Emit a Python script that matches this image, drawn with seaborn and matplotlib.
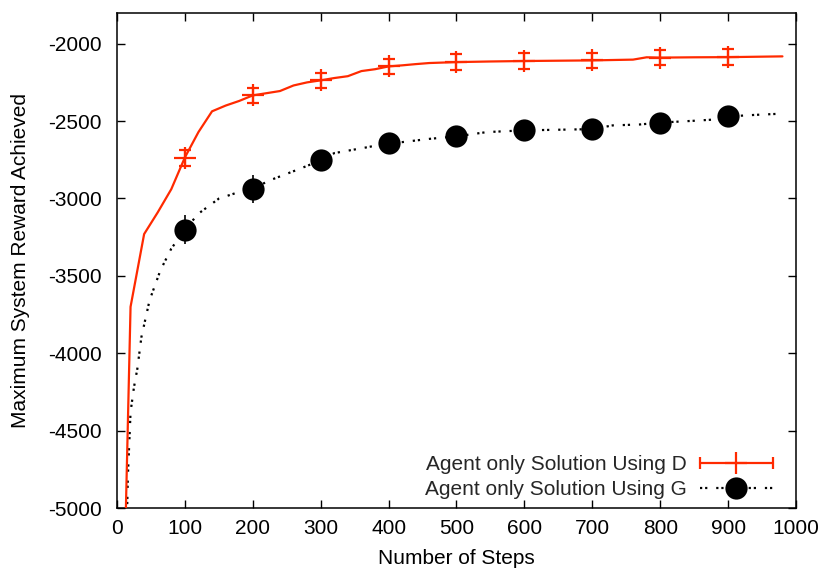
import matplotlib
matplotlib.use("Agg")
import matplotlib.pyplot as plt
from matplotlib.lines import Line2D
from matplotlib.legend_handler import HandlerLine2D
import numpy as np
import pandas as pd
import seaborn as sns

# ---- data ----
d_steps = [10, 20, 40, 60, 80, 100, 120, 140, 160, 180, 200, 220, 240, 260, 280,
           300, 320, 340, 360, 380, 400, 420, 440, 460, 480, 500, 550, 600, 650,
           700, 760, 780, 800, 850, 900, 980]
d_reward = [-5600, -3700, -3230, -3090, -2940, -2735, -2571, -2437, -2400, -2370,
            -2334, -2320, -2306, -2270, -2250, -2237, -2222, -2210, -2177, -2165,
            -2147, -2140, -2132, -2125, -2122, -2119, -2115, -2112, -2110,
            -2108, -2103, -2088, -2090, -2088, -2087, -2082]

g_steps = [12, 16, 20, 25, 30, 36, 48, 64, 80, 100, 120, 150, 175, 200, 225, 270,
           300, 320, 370, 400, 420, 460, 500, 545, 600, 650, 700, 730, 770, 800,
           850, 880, 900, 940, 980]
g_reward = [-5600, -4800, -4380, -4220, -4100, -3895, -3658, -3464, -3324, -3202,
            -3098, -3001, -2965, -2937, -2883, -2807, -2754, -2707, -2668, -2642,
            -2636, -2615, -2599, -2571, -2560, -2556, -2552, -2528, -2522, -2510,
            -2498, -2490, -2470, -2460, -2452]

err_steps = [100, 200, 300, 400, 500, 600, 700, 800, 900]
d_err_mean = [-2740, -2334, -2237, -2147, -2119, -2112, -2108, -2090, -2087]
d_err = [50, 50, 50, 50, 50, 50, 50, 50, 50]
g_err_mean = [-3202, -2937, -2754, -2642, -2599, -2560, -2552, -2510, -2470]
g_err = [92, 90, 50, 50, 50, 50, 50, 50, 50]

labels = ["Agent only Solution Using D", "Agent only Solution Using G"]
x_ticks = list(range(0, 1001, 100))
y_ticks = list(range(-5000, -1999, 500))

RED = "#ff2a00"
DOT = (0, (1, 1.3, 1, 4))

sns.set_theme(style="ticks")
plt.rcParams["font.family"] = ["Liberation Sans", "DejaVu Sans"]
plt.rcParams["axes.unicode_minus"] = False

fig = plt.figure(figsize=(8.22, 5.68), dpi=100)
ax = fig.add_axes([0.1423, 0.1056, 0.9684 - 0.1423, 0.9776 - 0.1056])

df_d = pd.DataFrame({"step": d_steps, "reward": d_reward})
df_g = pd.DataFrame({"step": g_steps, "reward": g_reward})

sns.lineplot(data=df_d, x="step", y="reward", ax=ax, color=RED, lw=1.6,
             estimator=None, sort=False, zorder=3)
sns.lineplot(data=df_g, x="step", y="reward", ax=ax, color="black", lw=1.6,
             linestyle=DOT, estimator=None, sort=False, zorder=2)

ax.errorbar(err_steps, d_err_mean, yerr=d_err, fmt="+", color=RED, ms=16,
            mew=1.6, elinewidth=1.6, capsize=4, capthick=1.6, zorder=4)
ax.errorbar(err_steps, g_err_mean, yerr=g_err, fmt="o", color="black", ms=16,
            mew=0, elinewidth=1.2, capsize=4, capthick=1.4, zorder=3)

ax.set_xlim(0, 1000)
ax.set_ylim(-5000, -1800)
ax.set_xticks(x_ticks)
ax.set_yticks(y_ticks)
ax.tick_params(direction="in", length=6, width=1, top=True, right=True,
               labelsize=15, color="black", labelcolor="black")
ax.tick_params(axis="x", pad=8)
ax.tick_params(axis="y", pad=11)
for s in ax.spines.values():
    s.set_linewidth(1.1)
    s.set_color("black")
    s.set_visible(True)

ax.set_xlabel("Number of Steps", fontsize=15, labelpad=8, color="black")
ax.set_ylabel("Maximum System Reward Achieved", fontsize=15, labelpad=13,
              color="black")

h_d = Line2D([], [], color=RED, lw=1.6, marker="+", ms=16, mew=1.6)
h_dcap = Line2D([], [], color=RED, ls="none", marker="|", ms=8, mew=1.6)
h_g = Line2D([], [], color="black", lw=1.6, linestyle=DOT, marker="o", ms=16,
             mew=0)
leg = ax.legend([(h_d, h_dcap), h_g], labels, loc="lower right",
                bbox_to_anchor=(0.993, -0.02), frameon=False, markerfirst=False,
                fontsize=15, handlelength=3.5, numpoints=1,
                labelspacing=0.3, handletextpad=0.6,
                handler_map={h_dcap: HandlerLine2D(numpoints=2, marker_pad=0)})
for t in leg.get_texts():
    t.set_ha("right")
leg._legend_box.align = "right"

fig.savefig("out.png", dpi=100)
